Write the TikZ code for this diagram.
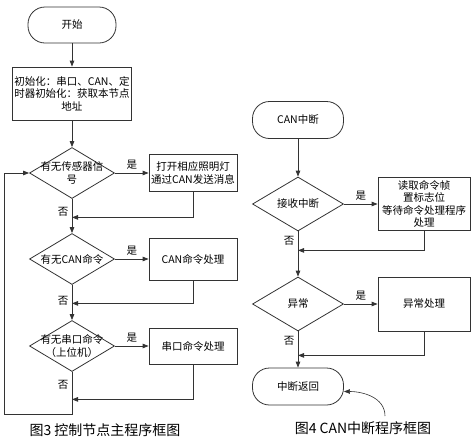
\documentclass[tikz,border=0pt]{standalone}
\usepackage{fontspec}
\setmainfont{Noto Sans CJK SC}
\usepackage{tikz}
\usetikzlibrary{shapes.geometric,arrows.meta}

\tikzset{
  term/.style={draw, rectangle, rounded corners=17pt, minimum width=88pt, minimum height=36pt},
  proc/.style={draw, rectangle, align=center, inner sep=2pt},
  decide/.style={draw, diamond, minimum width=85pt, minimum height=51pt, inner sep=0pt},
  caption/.style={font=\fontsize{14}{16}\selectfont}
}

\begin{document}
\begin{tikzpicture}[->, >={Triangle[length=6pt,width=4.5pt]}, x=1pt, y=-1pt,
  line width=0.8pt, draw=black!80,
  every node/.append style={font=\fontsize{10.5}{12.5}\selectfont}]
  \useasboundingbox (0,0) rectangle (472,440);

  % main program
  \node [term] (start) at (72,25) {开始};
  \node [proc, minimum width=118pt, minimum height=53pt] (init) [below of=start, node distance=68.5pt]
    {初始化：串口、CAN、定\\时器初始化：获取本节点\\地址};
  \node [decide, label={[align=center]center:有无传感器信\\号}] (sens) [below of=init, node distance=79.5pt] {};
  \node [proc, minimum width=88pt, minimum height=37pt] (light) [right of=sens, node distance=121pt]
    {打开相应照明灯\\通过CAN发送消息};
  \node [decide, label=center:有无CAN命令] (cancmd) [below of=sens, node distance=86pt] {};
  \node [proc, minimum width=88pt, minimum height=42pt] (canproc) [right of=cancmd, node distance=121pt] {CAN命令处理};
  \node [decide, label={[align=center]center:有无串口命令\\（上位机）}] (uart) [below of=cancmd, node distance=87pt] {};
  \node [proc, minimum width=88pt, minimum height=36pt] (uartproc) [right of=uart, node distance=121pt] {串口命令处理};
  \coordinate (loopb) at (72,414);
  \coordinate (loopl) at (4,414);
  \node [caption] (cap3) at (105,430) {图3 控制节点主程序框图};

  \path
  (start) edge (init)
  (init) edge (sens)
  (sens) edge node[above] {是} (light)
  (sens) edge node[left, pos=0.38] {否} (cancmd)
  (cancmd) edge node[above] {是} (cancmd.east -| canproc.west)
  (cancmd) edge node[left, pos=0.45] {否} (uart)
  (uart) edge node[above] {是} (uartproc)
  ;
  \draw[->] (light.south) |- ([yshift=-18.5pt]sens.south);
  \draw[->] (canproc.south) |- ([yshift=-18.5pt]cancmd.south);
  \draw[->] (uartproc.south) |- ([yshift=-27.5pt]uart.south);
  \draw[->] (uart.south) -- node[left, pos=0.31] {否} (loopb) -- (loopl) |- (sens.west);

  % CAN interrupt
  \node [term, minimum width=91pt, minimum height=37pt] (irq) at (298,120) {CAN中断};
  \node [decide, minimum width=91pt, minimum height=54pt, label=center:接收中断] (recv) [below of=irq, node distance=84pt] {};
  \node [proc, minimum width=92pt, minimum height=53pt] (readcmd) [right of=recv, node distance=126pt]
    {读取命令帧\\置标志位\\等待命令处理程序\\处理};
  \node [decide, minimum width=91pt, minimum height=54pt, label=center:异常] (err) [below of=recv, node distance=100pt] {};
  \node [proc, minimum width=92pt, minimum height=54pt] (errproc) [right of=err, node distance=126pt] {异常处理};
  \node [term, minimum width=91pt, minimum height=37pt] (ret) [below of=err, node distance=82.5pt] {中断返回};
  \coordinate (scrap) at (385,416);
  \node [caption] (cap4) at (363,428) {图4 CAN中断程序框图};

  \path
  (irq) edge (recv)
  (recv) edge node[above] {是} (readcmd)
  (recv) edge node[left, pos=0.2] {否} (err)
  (err) edge node[above] {是} (errproc)
  (err) edge node[left, pos=0.25] {否} (ret)
  ;
  \draw[->] (readcmd.south) |- ([yshift=-19pt]recv.south);
  \draw[->] (errproc.south) |- ([yshift=-24pt]err.south);
  \draw[->, line width=0.6pt] (scrap) to[out=90, in=0] ([yshift=-5pt]ret.east);
\end{tikzpicture}
\end{document}
